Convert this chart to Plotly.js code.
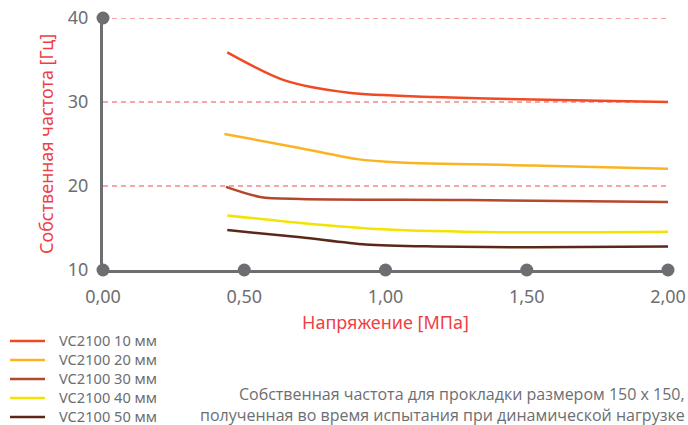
<!DOCTYPE html>
<html><head><meta charset="utf-8">
<script src="https://cdn.plot.ly/plotly-3.0.1.min.js"></script>
<style>body{margin:0;padding:0;background:#fff}#chart{width:688px;height:425px}</style>
</head><body><div id="chart"></div>
<script>
const seriesNames = ["VC2100 10 мм","VC2100 20 мм","VC2100 30 мм","VC2100 40 мм","VC2100 50 мм"];
const seriesColors = ["#f04a23","#fbb321","#b5472d","#f2e300","#5b2818"];
const x10 = [0.44,0.64,0.87,1.17,1.52,2.0];
const y10 = [35.9,32.6,31.1,30.6,30.3,30.0];
const x20 = [0.43,0.70,0.90,1.05,1.52,2.0];
const y20 = [26.2,24.5,23.2,22.8,22.45,22.05];
const x30 = [0.435,0.556,0.70,1.29,2.0];
const y30 = [19.9,18.7,18.45,18.33,18.1];
const x40 = [0.44,0.70,0.99,1.41,2.0];
const y40 = [16.5,15.6,14.85,14.5,14.55];
const x50 = [0.44,0.70,0.93,1.17,1.52,2.0];
const y50 = [14.75,13.9,13.05,12.8,12.7,12.8];
const xTickVals = [0,0.5,1,1.5,2];
const xTickText = ["0,00","0,50","1,00","1,50","2,00"];
const yTickVals = [10,20,30,40];
const gridVals = [20,30,40];
const xTitle = "Напряжение [МПа]";
const yTitle = "Собственная частота [Гц]";
const note = "Собственная частота для прокладки размером 150 x 150,<br>полученная во время испытания при динамической нагрузке";

const gray='#6d6e71';
const titleRed='#ee3f46';
const xs=[x10,x20,x30,x40,x50], ys=[y10,y20,y30,y40,y50];
const traces = xs.map((x,i)=>({x:x,y:ys[i],type:'scatter',mode:'lines',name:seriesNames[i],showlegend:false,
  line:{color:seriesColors[i],width:2.5,shape:'spline',smoothing:0.8}}));
traces.push({x:[0,0,0.5,1,1.5,2],y:[40,10,10,10,10,10],type:'scatter',mode:'markers',showlegend:false,
  marker:{color:gray,size:13},cliponaxis:false,hoverinfo:'skip'});

const plotL=103, plotW=565, plotB=270, plotH=252;
const px2x = p => (p-plotL)/plotW;
const py2y = p => (plotB-p)/plotH;
const shapes = gridVals.map(v=>({type:'line',xref:'x',yref:'y',x0:0,x1:2,y0:v,y1:v,layer:'below',
  line:{color:'#f04a4d',width:1.2,dash:'5px,4px'}}));
const rowGap = 19, firstRow = 341, legFont = rowGap/1.3;
seriesNames.forEach((n,i)=>{
  const yy = firstRow + i*rowGap;
  shapes.push({type:'line',xref:'paper',yref:'paper',x0:px2x(10),x1:px2x(45),y0:py2y(yy),y1:py2y(yy),
    line:{color:seriesColors[i],width:2.5}});
});
const annotations = [
  {xref:'paper',yref:'paper',x:px2x(57),y:py2y(firstRow - rowGap/2 - 4),xanchor:'left',yanchor:'top',align:'left',
    showarrow:false,text:seriesNames.join('<br>'),font:{size:legFont,color:gray}},
  {xref:'paper',yref:'paper',x:px2x(687),y:py2y(381),xanchor:'right',yanchor:'top',align:'right',
    showarrow:false,text:note,font:{size:16,color:gray,family:'Open Sans, sans-serif'}}
];

const layout = {
  width:688,height:425,margin:{l:103,r:20,t:18,b:155,autoexpand:false},
  paper_bgcolor:'#fff',plot_bgcolor:'#fff',showlegend:false,
  font:{family:'Noto Sans, sans-serif',color:gray},
  xaxis:{range:[0,2],tickvals:xTickVals,ticktext:xTickText,showgrid:false,zeroline:false,
    showline:true,linecolor:gray,linewidth:3,ticks:'outside',ticklen:8,tickcolor:'rgba(0,0,0,0)',
    tickfont:{size:18,color:gray},
    title:{text:xTitle,font:{size:18,color:titleRed},standoff:10}},
  yaxis:{range:[10,40],tickvals:yTickVals,showgrid:false,
    zeroline:false,showline:true,linecolor:gray,linewidth:3,ticks:'outside',ticklen:8,tickcolor:'rgba(0,0,0,0)',
    tickfont:{size:18,color:gray},
    title:{text:yTitle,font:{size:18,color:titleRed},standoff:10}},
  shapes:shapes,annotations:annotations
};
Plotly.newPlot('chart',traces,layout,{displayModeBar:false,staticPlot:true});
</script></body></html>
